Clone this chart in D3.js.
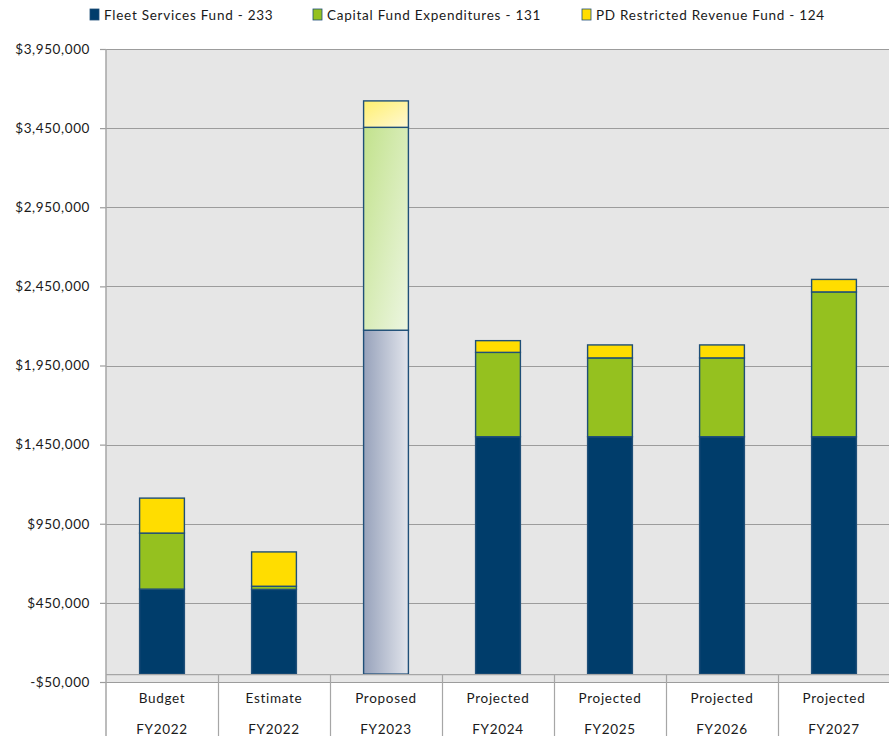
<!DOCTYPE html>
<html>
<head>
<meta charset="utf-8">
<script src="https://cdn.jsdelivr.net/npm/d3@7/dist/d3.min.js"></script>
<style>
  html, body { margin: 0; padding: 0; background: #ffffff; }
  svg { display: block; }
  text { font-family: Lato, "Open Sans", sans-serif; fill: #1a1a1a; }
</style>
</head>
<body>
<svg id="chart" width="889" height="736"></svg>
<script>
// Fund expenditures by fiscal period (stacked)
const catTop = ["Budget", "Estimate", "Proposed", "Projected", "Projected", "Projected", "Projected"];
const catBottom = ["FY2022", "FY2022", "FY2023", "FY2024", "FY2025", "FY2026", "FY2027"];
const seriesNames = ["Fleet Services Fund - 233", "Capital Fund Expenditures - 131", "PD Restricted Revenue Fund - 124"];
const fleet   = [537000, 535000, 2173000, 1500000, 1500000, 1500000, 1500000];
const capital = [354000,  20000, 1282000,  533000,  498000,  498000,  915000];
const pdFund  = [221000, 217000,  167000,   74000,   82000,   82000,   79000];
const yTicks  = [-50000, 450000, 950000, 1450000, 1950000, 2450000, 2950000, 3450000, 3950000];
const highlighted = 2; // Proposed FY2023 is shown in the selected (faded) style

const colors = ["#003d6b", "#95c11f", "#ffdd00"];

const svg = d3.select("#chart");
const W = 889, H = 736;
const plot = { left: 106, right: 890, top: 49, bottom: 682 };

const keys = catTop.map((t, i) => t + " " + catBottom[i]);
const rows = keys.map((k, i) => ({ key: k, s0: fleet[i], s1: capital[i], s2: pdFund[i], i }));
const stack = d3.stack().keys(["s0", "s1", "s2"])(rows);

const x = d3.scaleBand().domain(keys).range([plot.left, plot.right])
  .paddingInner(0.6).paddingOuter(0.3);
const y = d3.scaleLinear().domain([yTicks[0], yTicks[yTicks.length - 1]])
  .range([plot.bottom, plot.top]);

// gradients for the selected column
const defs = svg.append("defs");
const gradSpecs = [
  { id: "g0", x2: "100%", y2: "0%", stops: ["#97a2bb", "#e2e5ec"] },
  { id: "g1", x2: "100%", y2: "100%", stops: ["#c2e28c", "#edf6e2"] },
  { id: "g2", x2: "100%", y2: "100%", stops: ["#fff06e", "#fff8d4"] }
];
gradSpecs.forEach(g => {
  const lg = defs.append("linearGradient").attr("id", g.id)
    .attr("x1", "0%").attr("y1", "0%").attr("x2", g.x2).attr("y2", g.y2);
  lg.append("stop").attr("offset", "0%").attr("stop-color", g.stops[0]);
  lg.append("stop").attr("offset", "100%").attr("stop-color", g.stops[1]);
});

// plot background
svg.append("rect")
  .attr("x", plot.left).attr("y", plot.top)
  .attr("width", plot.right - plot.left).attr("height", plot.bottom - plot.top)
  .attr("fill", "#e6e6e6");

// horizontal gridlines
svg.append("g").selectAll("line").data(yTicks).join("line")
  .attr("x1", plot.left).attr("x2", plot.right)
  .attr("y1", d => Math.round(y(d)) + 0.5).attr("y2", d => Math.round(y(d)) + 0.5)
  .attr("stroke", "#9c9c9c").attr("stroke-width", 1.2);

// y axis
const fmt = d3.format(",");
const yAxis = d3.axisLeft(y).tickValues(yTicks).tickSize(6).tickPadding(10)
  .tickFormat(d => (d < 0 ? "-$" : "$") + fmt(Math.abs(d)));
const gy = svg.append("g").attr("transform", `translate(${plot.left},0)`).call(yAxis);
gy.select(".domain").remove();
gy.selectAll(".tick line").attr("stroke", "#9c9c9c").attr("stroke-width", 1.2);
gy.selectAll(".tick text").style("font-size", "13.5px").attr("fill", "#1a1a1a")
  .style("letter-spacing", "0.6px");
svg.append("line").attr("x1", plot.left).attr("x2", plot.left)
  .attr("y1", plot.top).attr("y2", H)
  .attr("stroke", "#a6a6a6").attr("stroke-width", 1.5);

// bars
const gBars = svg.append("g");
stack.forEach((layer, si) => {
  gBars.append("g").selectAll("rect").data(layer).join("rect")
    .attr("x", d => x(d.data.key))
    .attr("width", x.bandwidth())
    .attr("y", d => y(d[1]))
    .attr("height", d => Math.max(0, y(d[0]) - y(d[1])))
    .attr("fill", d => d.data.i === highlighted ? `url(#g${si})` : colors[si])
    .attr("stroke", "#1f4f78")
    .attr("stroke-width", 1.4);
});

// category axis at zero
const y0 = y(0);
svg.append("line").attr("x1", plot.left).attr("x2", plot.right)
  .attr("y1", y0 + 0.5).attr("y2", y0 + 0.5)
  .attr("stroke", "#a6a6a6").attr("stroke-width", 1.2);

// white label area under the plot
svg.append("rect").attr("x", plot.left + 1).attr("y", plot.bottom + 1)
  .attr("width", W - plot.left).attr("height", H - plot.bottom)
  .attr("fill", "#ffffff");

// category separators
const step = x.step();
svg.append("g").selectAll("line").data(keys.slice(0, -1)).join("line")
  .attr("x1", d => Math.round(x(d) + x.bandwidth() / 2 + step / 2) + 0.5)
  .attr("x2", d => Math.round(x(d) + x.bandwidth() / 2 + step / 2) + 0.5)
  .attr("y1", y0).attr("y2", H)
  .attr("stroke", "#a6a6a6").attr("stroke-width", 1.2);

// category labels
const gl = svg.append("g").selectAll("g").data(keys).join("g")
  .attr("transform", d => `translate(${x(d) + x.bandwidth() / 2},0)`);
gl.append("text").attr("y", 703).attr("text-anchor", "middle")
  .style("font-size", "13.5px").style("letter-spacing", "0.7px")
  .text((d, i) => catTop[i]);
gl.append("text").attr("y", 733.5).attr("text-anchor", "middle")
  .style("font-size", "13.5px").style("letter-spacing", "0.7px")
  .text((d, i) => catBottom[i]);

// legend
const legendX = [90, 313, 582];
const lg = svg.append("g").selectAll("g").data(seriesNames).join("g")
  .attr("transform", (d, i) => `translate(${legendX[i]},9)`);
lg.append("rect").attr("width", 9).attr("height", 11)
  .attr("fill", (d, i) => colors[i]).attr("stroke", "#1f4f78").attr("stroke-width", 0.8);
lg.append("text").attr("x", 14).attr("y", 10.5)
  .style("font-size", "13.5px").style("letter-spacing", "0.75px")
  .text(d => d);
</script>
</body>
</html>
